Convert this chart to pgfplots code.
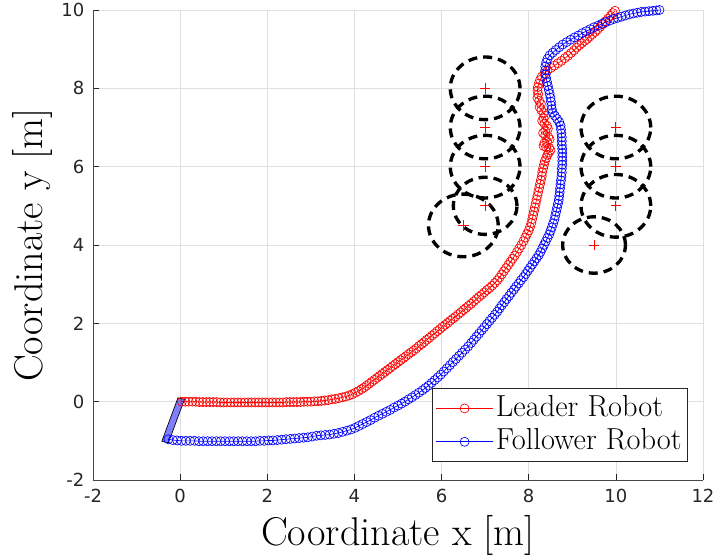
\documentclass[border=0pt]{standalone}
\usepackage{pgfplots}
\pgfplotsset{compat=1.18}
\usepackage{fontspec}
\newfontfamily\ticksf{DejaVu Sans}
\definecolor{axisgray}{RGB}{38,38,38}
\definecolor{gridgray}{RGB}{223,223,223}
\definecolor{leadred}{RGB}{255,0,0}
\definecolor{follblue}{RGB}{0,0,255}
% one data unit is 32.68pt along x and 29.375pt along y
\newcommand\obstacle[3]{\draw (axis cs:#1,#2) ellipse [x radius=#3*32.68pt, y radius=#3*29.375pt];}

\begin{document}
\begin{tikzpicture}
\begin{axis}[
  name=ax, set layers,
  scale only axis, width=457.5pt, height=352.5pt,
  xmin=-2, xmax=12, ymin=-2, ymax=10,
  xtick={-2,0,2,4,6,8,10,12}, ytick={-2,0,2,4,6,8,10},
  xticklabels={-2,0,2,4,6,8,10,12}, yticklabels={-2,0,2,4,6,8,10},
  axis lines*=left,
  tick align=inside, major tick length=4.5pt,
  tick style={axisgray, line width=0.5pt},
  axis line style={axisgray!85, line width=0.6pt},
  grid=major, major grid style={gridgray, line width=0.5pt},
  tick label style={font=\ticksf\fontsize{13.5}{15}\selectfont, text=axisgray},
  xticklabel shift=3.5pt, yticklabel shift=3pt,
  xlabel={Coordinate x [m]}, ylabel={Coordinate y [m]},
  label style={font=\fontsize{30.1}{36}\selectfont},
  x label style={at={(axis description cs:0.5,-0.1383)}, anchor=base},
  y label style={at={(axis description cs:-0.0836,0.5)}, anchor=base},
  clip=false,
  legend cell align=left,
  legend style={at={(0.9754,0.0383)}, anchor=south east, draw=axisgray,
    line width=0.5pt, fill=white, inner xsep=2.5pt, inner ysep=2.4pt,
    row sep=0pt, font=\fontsize{22.8}{26}\selectfont,
    nodes={inner xsep=2pt, inner ysep=1.5pt, text height=17pt, text depth=5pt}},
  legend image code/.code={\draw[mark repeat=2,mark phase=2]
    plot coordinates {(0pt,0pt) (21.25pt,0pt) (42.5pt,0pt)};},
]

% obstacles: dashed boundaries (centre x, centre y, radius in data units)
\begin{scope}[black, line width=2.5pt, dash pattern=on 6.75pt off 4.5pt]
\obstacle{7}{8}{0.8}
\obstacle{7}{7}{0.8}
\obstacle{7}{6}{0.8}
\obstacle{7}{5}{0.73}
\obstacle{6.5}{4.5}{0.8}
\obstacle{10}{7}{0.8}
\obstacle{10}{6}{0.8}
\obstacle{10}{5}{0.8}
\obstacle{9.5}{4}{0.72}
\end{scope}

% obstacle centres
\addplot[only marks, mark=+, mark size=4pt, leadred, line width=0.6pt,
  mark options={leadred, solid}, forget plot, on layer=axis foreground]
  coordinates {(7,8) (7,7) (7,6) (7,5) (6.5,4.5) (10,7) (10,6) (10,5) (9.5,4)};

% leader trajectory
\addplot[leadred, line width=0.5pt, mark=o, mark size=3.4pt, mark options={solid}]
  coordinates {
(0.04,0.00) (0.12,0.00) (0.20,0.00) (0.28,0.00) (0.36,0.00) (0.44,-0.01) (0.52,-0.01) (0.60,-0.01)
(0.68,-0.01) (0.76,-0.01) (0.84,-0.01) (0.92,-0.02) (1.00,-0.02) (1.08,-0.02) (1.16,-0.02) (1.24,-0.02)
(1.32,-0.02) (1.40,-0.02) (1.48,-0.02) (1.56,-0.02) (1.64,-0.02) (1.72,-0.02) (1.80,-0.02) (1.88,-0.02)
(1.96,-0.02) (2.04,-0.02) (2.12,-0.02) (2.20,-0.02) (2.28,-0.02) (2.36,-0.02) (2.44,-0.01) (2.52,-0.01)
(2.60,-0.01) (2.68,-0.01) (2.76,-0.01) (2.84,0.00) (2.92,0.00) (3.00,0.00) (3.08,0.01) (3.16,0.01)
(3.24,0.02) (3.32,0.03) (3.40,0.04) (3.48,0.06) (3.56,0.07) (3.64,0.09) (3.72,0.11) (3.80,0.13)
(3.88,0.16) (3.95,0.19) (4.02,0.23) (4.09,0.27) (4.16,0.32) (4.22,0.36) (4.28,0.41)
(4.34,0.46) (4.40,0.51) (4.46,0.56) (4.52,0.61) (4.58,0.66) (4.64,0.71) (4.70,0.76) (4.76,0.81)
(4.82,0.86) (4.88,0.91) (4.94,0.96) (5.00,1.01) (5.06,1.06) (5.12,1.11) (5.18,1.16) (5.24,1.21)
(5.30,1.26) (5.36,1.31) (5.42,1.36) (5.48,1.42) (5.54,1.47) (5.60,1.52) (5.66,1.58) (5.72,1.63)
(5.78,1.69) (5.84,1.74) (5.90,1.80) (5.96,1.85) (6.02,1.91) (6.08,1.96) (6.14,2.01) (6.20,2.07)
(6.26,2.12) (6.32,2.17) (6.38,2.23) (6.44,2.28) (6.50,2.34) (6.56,2.39) (6.62,2.45) (6.68,2.50)
(6.74,2.56) (6.80,2.62) (6.86,2.68) (6.92,2.73) (6.98,2.79) (7.04,2.85) (7.10,2.90) (7.16,2.96)
(7.22,3.03) (7.28,3.10) (7.33,3.17) (7.38,3.25) (7.43,3.33) (7.48,3.41) (7.53,3.49) (7.58,3.57)
(7.63,3.65) (7.68,3.73) (7.73,3.82) (7.78,3.91) (7.83,4.00) (7.88,4.10) (7.92,4.19) (7.96,4.28)
(8.00,4.37) (8.03,4.46) (8.06,4.56) (8.08,4.66) (8.10,4.76) (8.12,4.86) (8.14,4.96) (8.16,5.06)
(8.18,5.16) (8.20,5.26) (8.22,5.36) (8.24,5.46) (8.26,5.56) (8.28,5.66) (8.30,5.76) (8.31,5.86)
(8.33,5.96) (8.35,6.05) (8.37,6.14) (8.40,6.22) (8.43,6.30)
(8.46,6.36) (8.50,6.42) (8.47,6.48) (8.40,6.50) (8.34,6.53) (8.36,6.60) (8.42,6.64) (8.48,6.70)
(8.45,6.76) (8.38,6.80) (8.33,6.86) (8.38,6.92) (8.44,6.97) (8.42,7.04) (8.36,7.10) (8.31,7.17)
(8.34,7.24) (8.38,7.30) (8.34,7.37) (8.29,7.44) (8.25,7.52) (8.28,7.60) (8.24,7.68) (8.20,7.76)
(8.22,7.85) (8.20,7.94) (8.21,8.03) (8.23,8.12) (8.26,8.21) (8.30,8.30)
(8.36,8.38) (8.43,8.45) (8.51,8.52) (8.59,8.58) (8.67,8.64) (8.75,8.70) (8.83,8.77) (8.90,8.83)
(8.97,8.90) (9.04,8.97) (9.10,9.04) (9.16,9.10) (9.22,9.15) (9.28,9.21) (9.34,9.26) (9.40,9.32)
(9.46,9.38) (9.52,9.44) (9.58,9.50) (9.64,9.57) (9.70,9.64) (9.76,9.71) (9.82,9.78) (9.88,9.85)
(9.93,9.92) (9.98,9.98)
  };
\addlegendentry{Leader Robot}

% follower trajectory
\addplot[follblue, line width=0.5pt, mark=o, mark size=3.4pt, mark options={solid}]
  coordinates {
(-0.27,-0.96) (-0.17,-0.98) (-0.07,-0.99) (0.03,-1.00) (0.13,-1.00) (0.23,-1.00) (0.33,-1.00) (0.43,-1.01)
(0.53,-1.01) (0.63,-1.01) (0.73,-1.01) (0.83,-1.01) (0.93,-1.01) (1.03,-1.01) (1.13,-1.01) (1.23,-1.01)
(1.33,-1.01) (1.43,-1.01) (1.53,-1.01) (1.63,-1.01) (1.73,-1.01) (1.83,-1.00) (1.93,-1.00) (2.03,-0.99)
(2.13,-0.99) (2.23,-0.98) (2.33,-0.97) (2.43,-0.96) (2.53,-0.95) (2.63,-0.94) (2.73,-0.93) (2.83,-0.92)
(2.93,-0.91) (3.03,-0.89) (3.13,-0.87) (3.23,-0.86) (3.33,-0.85) (3.43,-0.84) (3.53,-0.82) (3.63,-0.80)
(3.73,-0.77) (3.83,-0.74) (3.92,-0.71) (4.01,-0.67) (4.10,-0.62) (4.19,-0.57) (4.28,-0.52) (4.37,-0.47)
(4.46,-0.41) (4.55,-0.36) (4.64,-0.31) (4.73,-0.26) (4.82,-0.21) (4.91,-0.15) (5.00,-0.10) (5.08,-0.05)
(5.16,0.00) (5.24,0.06) (5.32,0.11) (5.40,0.17) (5.48,0.23) (5.56,0.29) (5.63,0.35) (5.70,0.41)
(5.77,0.48) (5.84,0.55) (5.91,0.62) (5.98,0.69) (6.05,0.77) (6.12,0.85) (6.19,0.93) (6.26,1.01)
(6.33,1.09) (6.40,1.17) (6.47,1.25) (6.54,1.33) (6.61,1.41) (6.68,1.50) (6.74,1.58) (6.80,1.66)
(6.86,1.74) (6.92,1.82) (6.98,1.90) (7.04,1.98) (7.10,2.06) (7.16,2.14) (7.22,2.22) (7.28,2.30)
(7.33,2.38) (7.38,2.46) (7.44,2.54) (7.49,2.62) (7.55,2.70) (7.60,2.78) (7.66,2.86) (7.71,2.94)
(7.77,3.02) (7.82,3.10) (7.88,3.18) (7.93,3.26) (7.98,3.34) (8.03,3.42) (8.08,3.50) (8.13,3.58)
(8.18,3.66) (8.23,3.74) (8.27,3.82) (8.31,3.91) (8.35,4.00) (8.39,4.09) (8.43,4.18) (8.47,4.27)
(8.50,4.36) (8.53,4.45) (8.56,4.55) (8.59,4.65) (8.61,4.75) (8.63,4.85) (8.65,4.95) (8.67,5.05)
(8.69,5.15) (8.70,5.25) (8.71,5.35) (8.72,5.45) (8.73,5.55) (8.74,5.65) (8.75,5.75) (8.76,5.85)
(8.76,5.95) (8.77,6.05) (8.77,6.15) (8.77,6.25) (8.77,6.35) (8.77,6.45) (8.76,6.55) (8.76,6.65)
(8.76,6.75) (8.75,6.85) (8.74,6.95) (8.73,7.05) (8.70,7.14) (8.65,7.22) (8.60,7.30) (8.55,7.38)
(8.53,7.47) (8.52,7.56) (8.51,7.66) (8.50,7.76) (8.48,7.86) (8.46,7.96) (8.44,8.06) (8.42,8.16)
(8.40,8.26) (8.39,8.36) (8.38,8.46) (8.38,8.56) (8.40,8.66) (8.43,8.75) (8.48,8.84) (8.55,8.91)
(8.62,8.98) (8.70,9.05) (8.78,9.12) (8.87,9.18) (8.96,9.24) (9.05,9.30) (9.14,9.35) (9.23,9.41)
(9.32,9.46) (9.41,9.51) (9.50,9.56) (9.59,9.60) (9.68,9.65) (9.77,9.69) (9.86,9.73) (9.95,9.77)
(10.04,9.80) (10.13,9.83) (10.22,9.86) (10.31,9.89) (10.40,9.91) (10.49,9.93) (10.58,9.95) (10.67,9.96)
(10.76,9.97) (10.85,9.98) (10.93,9.99) (11.00,10.00)
  };
\addlegendentry{Follower Robot}

% link between the two robots at the start
\addplot[fill=follblue, fill opacity=0.5, draw=black, line width=0.5pt, forget plot]
  coordinates {(-0.05,0.10) (0.10,0.06) (-0.27,-1.05) (-0.42,-1.01)} -- cycle;

\end{axis}
\pgfresetboundingbox
\path[use as bounding box] ([shift={(-69.75pt,-58.5pt)}]ax.south west)
  rectangle ([shift={(11.25pt,7.5pt)}]ax.north east);
\end{tikzpicture}
\end{document}
